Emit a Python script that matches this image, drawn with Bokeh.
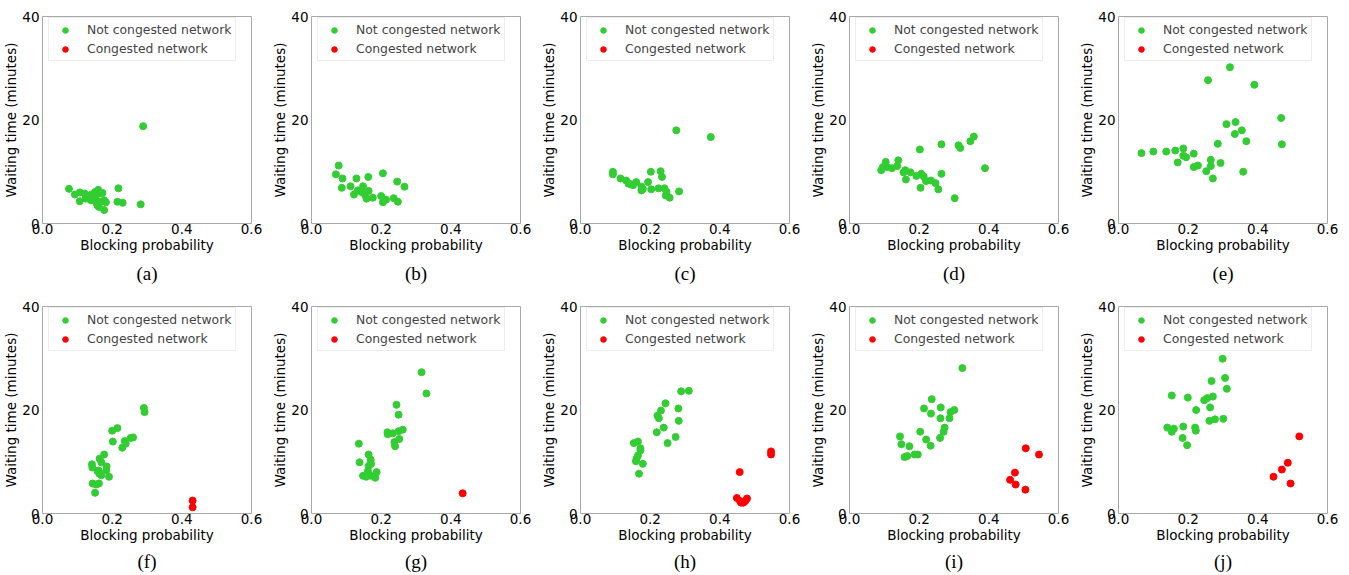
import math
from bokeh.plotting import figure
from bokeh.layouts import row, column
from bokeh.models import FixedTicker, PrintfTickFormatter, Title, Legend, LegendItem, ColumnDataSource
from bokeh.embed import file_html
from bokeh.resources import INLINE

captions = ["(a)", "(b)", "(c)", "(d)", "(e)", "(f)", "(g)", "(h)", "(i)", "(j)"]
x_ticks = [0.0, 0.2, 0.4, 0.6]
y_ticks = [0, 20, 40]

# Not congested network (green) per panel
a_gx = [0.289, 0.076, 0.093, 0.107, 0.107, 0.121, 0.131, 0.140, 0.151, 0.153, 0.160, 0.163, 0.172,
        0.156, 0.162, 0.167, 0.177, 0.182, 0.177, 0.158, 0.215, 0.230, 0.218, 0.282, 0.139, 0.124]
a_gy = [18.8, 6.7, 5.6, 6.0, 4.3, 5.8, 5.1, 5.6, 6.1, 4.8, 6.5, 5.8, 5.9,
        3.9, 3.2, 4.2, 4.5, 4.1, 2.6, 3.5, 4.2, 4.0, 6.8, 3.7, 4.5, 4.8]
b_gx = [0.078, 0.070, 0.089, 0.087, 0.112, 0.129, 0.122, 0.133, 0.148, 0.143, 0.163, 0.164, 0.158,
        0.176, 0.205, 0.200, 0.205, 0.214, 0.236, 0.246, 0.248, 0.267, 0.154]
b_gy = [11.2, 9.5, 8.7, 6.9, 7.2, 8.7, 5.6, 6.4, 7.2, 6.1, 9.0, 6.3, 4.8,
        5.0, 9.7, 5.3, 4.1, 4.6, 4.9, 8.1, 4.2, 7.1, 5.5]
c_gx = [0.275, 0.374, 0.093, 0.093, 0.115, 0.131, 0.138, 0.151, 0.160, 0.175, 0.175, 0.194, 0.202,
        0.203, 0.224, 0.230, 0.234, 0.241, 0.247, 0.245, 0.256, 0.283, 0.179, 0.144]
c_gy = [18.0, 16.7, 10.0, 9.5, 8.7, 8.3, 7.7, 7.4, 8.0, 7.1, 6.4, 8.0, 10.0,
        6.6, 6.8, 10.1, 9.0, 6.8, 6.1, 5.4, 5.0, 6.2, 6.7, 7.6]
d_gx = [0.091, 0.096, 0.104, 0.108, 0.122, 0.137, 0.140, 0.155, 0.160, 0.162, 0.175, 0.192, 0.202,
        0.206, 0.213, 0.204, 0.220, 0.234, 0.247, 0.255, 0.264, 0.264, 0.302, 0.313, 0.318, 0.347,
        0.357, 0.389]
d_gy = [10.3, 10.9, 11.9, 10.9, 10.7, 11.1, 12.2, 9.9, 10.3, 8.5, 9.9, 9.2, 14.3,
        9.6, 9.1, 6.9, 8.2, 8.3, 7.8, 6.6, 15.3, 9.6, 4.9, 15.1, 14.6, 15.9,
        16.8, 10.7]
e_gx = [0.066, 0.100, 0.137, 0.163, 0.186, 0.186, 0.194, 0.170, 0.216, 0.216, 0.228, 0.252, 0.265,
        0.265, 0.271, 0.257, 0.285, 0.293, 0.320, 0.310, 0.336, 0.334, 0.354, 0.367, 0.358, 0.390,
        0.467, 0.469]
e_gy = [13.6, 13.9, 13.9, 14.1, 14.5, 13.1, 12.8, 11.8, 13.5, 10.9, 11.2, 10.1, 12.3,
        11.1, 8.7, 27.7, 15.4, 11.7, 30.2, 19.2, 19.6, 17.3, 18.0, 15.9, 10.0, 26.8,
        20.4, 15.3]
f_gx = [0.291, 0.293, 0.200, 0.215, 0.202, 0.229, 0.236, 0.239, 0.253, 0.260, 0.177, 0.164, 0.169,
        0.142, 0.143, 0.161, 0.163, 0.169, 0.183, 0.184, 0.191, 0.144, 0.162, 0.154, 0.151, 0.158]
f_gy = [20.4, 19.6, 16.0, 16.5, 13.9, 12.7, 14.0, 13.5, 14.6, 14.7, 11.4, 10.6, 9.9,
        9.5, 8.9, 8.3, 7.7, 7.4, 8.3, 9.1, 7.1, 5.8, 5.8, 5.6, 4.0, 8.2]
g_gx = [0.316, 0.330, 0.244, 0.250, 0.218, 0.219, 0.233, 0.250, 0.262, 0.252, 0.238, 0.240, 0.136,
        0.138, 0.164, 0.170, 0.171, 0.164, 0.162, 0.148, 0.157, 0.170, 0.183, 0.187, 0.160]
g_gy = [27.3, 23.2, 21.0, 19.1, 15.7, 15.3, 15.5, 15.9, 16.2, 14.4, 13.8, 13.0, 13.5,
        9.9, 11.4, 10.4, 9.6, 9.2, 8.2, 7.3, 7.1, 7.3, 6.9, 8.0, 7.7]
h_gx = [0.311, 0.289, 0.244, 0.231, 0.281, 0.221, 0.225, 0.282, 0.239, 0.219, 0.273, 0.250, 0.153,
        0.165, 0.172, 0.172, 0.165, 0.161, 0.159, 0.179, 0.168]
h_gy = [23.7, 23.6, 21.3, 19.9, 20.3, 18.9, 18.4, 17.9, 16.6, 15.7, 14.8, 13.6, 13.6,
        13.9, 12.6, 12.2, 11.2, 10.6, 10.1, 9.6, 7.7]
i_gx = [0.324, 0.236, 0.214, 0.234, 0.262, 0.261, 0.290, 0.301, 0.287, 0.273, 0.270, 0.203, 0.260,
        0.220, 0.233, 0.145, 0.149, 0.172, 0.158, 0.166, 0.187, 0.196]
i_gy = [28.1, 22.1, 20.3, 19.3, 20.5, 18.4, 19.6, 20.0, 18.4, 16.6, 15.8, 15.8, 14.6,
        14.3, 13.1, 14.9, 13.4, 13.0, 10.9, 11.1, 11.4, 11.4]
j_gx = [0.299, 0.306, 0.267, 0.311, 0.153, 0.199, 0.246, 0.255, 0.271, 0.223, 0.263, 0.301, 0.277,
        0.261, 0.140, 0.159, 0.153, 0.186, 0.220, 0.222, 0.184, 0.197]
j_gy = [29.9, 26.2, 25.6, 24.1, 22.8, 22.4, 21.9, 22.3, 22.6, 20.0, 20.5, 18.3, 18.2,
        17.9, 16.6, 16.4, 15.8, 16.8, 16.6, 16.0, 14.6, 13.2]

# Congested network (red) per panel
a_rx, a_ry = [], []
b_rx, b_ry = [], []
c_rx, c_ry = [], []
d_rx, d_ry = [], []
e_rx, e_ry = [], []
f_rx = [0.431, 0.431]
f_ry = [2.5, 1.2]
g_rx = [0.434]
g_ry = [3.9]
h_rx = [0.457, 0.449, 0.458, 0.467, 0.473, 0.478, 0.461, 0.547, 0.547]
h_ry = [8.0, 3.0, 2.4, 2.1, 2.4, 2.9, 2.1, 12.0, 11.4]
i_rx = [0.506, 0.544, 0.475, 0.461, 0.477, 0.505]
i_ry = [12.6, 11.4, 7.9, 6.5, 5.6, 4.6]
j_rx = [0.519, 0.486, 0.469, 0.445, 0.494]
j_ry = [14.9, 9.8, 8.5, 7.1, 5.8]

green_sets = [(a_gx, a_gy), (b_gx, b_gy), (c_gx, c_gy), (d_gx, d_gy), (e_gx, e_gy),
              (f_gx, f_gy), (g_gx, g_gy), (h_gx, h_gy), (i_gx, i_gy), (j_gx, j_gy)]
red_sets = [(a_rx, a_ry), (b_rx, b_ry), (c_rx, c_ry), (d_rx, d_ry), (e_rx, e_ry),
            (f_rx, f_ry), (g_rx, g_ry), (h_rx, h_ry), (i_rx, i_ry), (j_rx, j_ry)]

GREEN = "#32cd32"
RED = "#ff0000"
FONT = "DejaVu Sans"


def make_panel(idx):
    top_row = idx < 5
    bottom_border = 67 if top_row else 62
    p = figure(frame_width=209, frame_height=207, x_range=(0, 0.6), y_range=(0, 40),
               output_backend="svg", toolbar_location=None,
               min_border_left=42, min_border_right=18, min_border_top=16,
               min_border_bottom=bottom_border)
    p.xgrid.visible = False
    p.ygrid.visible = False
    p.outline_line_color = "#a8a8a8"
    p.outline_line_width = 1
    p.background_fill_color = "white"
    p.border_fill_color = "white"
    for ax in (p.xaxis[0], p.yaxis[0]):
        ax.axis_line_color = None
        ax.major_tick_line_color = None
        ax.minor_tick_line_color = None
        ax.major_tick_out = 0
        ax.major_tick_in = 0
        ax.minor_tick_out = 0
        ax.minor_tick_in = 0
        ax.major_label_text_font = FONT
        ax.major_label_text_font_size = "13.5px"
        ax.major_label_text_color = "black"
        ax.axis_label_text_font = FONT
        ax.axis_label_text_font_size = "13.5px"
        ax.axis_label_text_font_style = "normal"
        ax.axis_label_text_color = "black"
        ax.axis_label_standoff = 0
    p.xaxis[0].major_label_standoff = 0
    p.yaxis[0].major_label_standoff = 3
    p.xaxis.ticker = FixedTicker(ticks=x_ticks)
    p.xaxis.formatter = PrintfTickFormatter(format="%.1f")
    p.yaxis.ticker = FixedTicker(ticks=y_ticks)
    p.yaxis.formatter = PrintfTickFormatter(format="%d")
    p.xaxis.axis_label = "Blocking probability"
    p.yaxis.axis_label = "Waiting time (minutes)"

    gx, gy = green_sets[idx]
    rx, ry = red_sets[idx]
    # an empty series gets one missing (NaN) value so that its legend swatch is still drawn
    if len(rx) == 0:
        rx, ry = [math.nan], [math.nan]
    rg = p.scatter(x=gx, y=gy, size=7, fill_color=GREEN, line_color=GREEN, marker="circle")
    rr = p.scatter(x="x", y="y", source=ColumnDataSource(data=dict(x=rx, y=ry)),
                   size=7, fill_color=RED, line_color=RED, marker="circle")

    legend = Legend(items=[LegendItem(label="Not congested network", renderers=[rg]),
                           LegendItem(label="Congested network", renderers=[rr])],
                    location=(6, 162), orientation="vertical",
                    label_text_font=FONT, label_text_font_size="12.4px",
                    label_height=14, glyph_height=14, glyph_width=24,
                    label_standoff=10, spacing=4, padding=4, margin=0,
                    border_line_color="#dcdcdc", border_line_width=1,
                    background_fill_color="white", background_fill_alpha=1.0)
    p.add_layout(legend)

    cap = Title(text=captions[idx], align="center", text_font="Liberation Serif",
                text_font_size="19px", text_font_style="normal", text_color="black",
                standoff=11 if top_row else 7)
    p.add_layout(cap, "below")
    return p


panels = [make_panel(i) for i in range(10)]
layout = column(row(*panels[:5]), row(*panels[5:]))

open("out.html", "w").write(file_html(layout, INLINE))
